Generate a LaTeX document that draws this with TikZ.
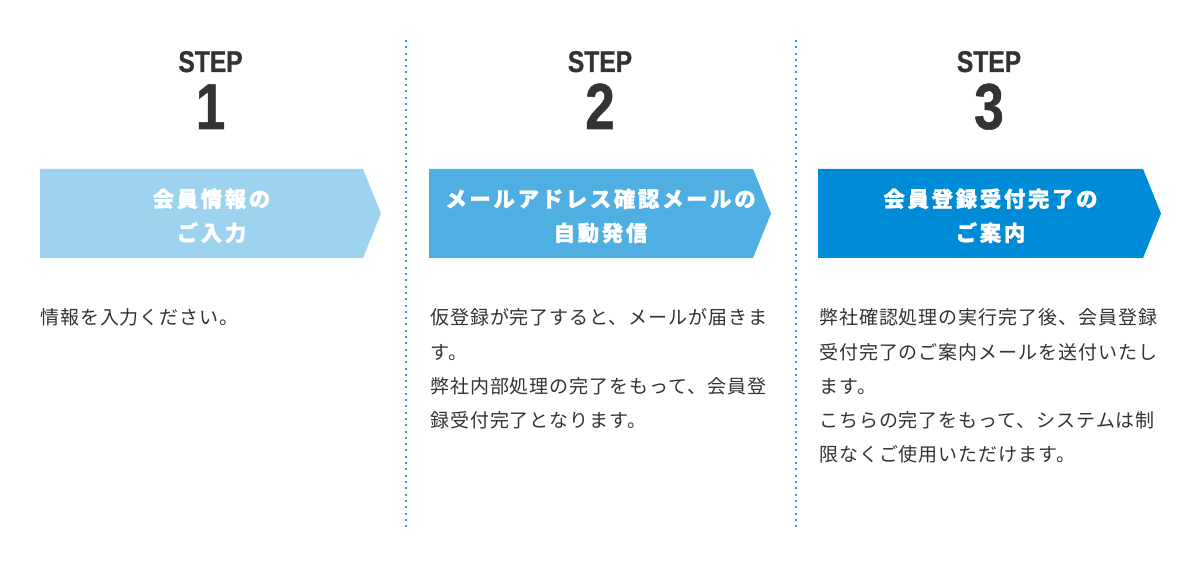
\documentclass[tikz,border=0pt]{standalone}
\usepackage{fontspec}
\newfontfamily\jpbody{Noto Sans CJK JP}[LetterSpace=5]
\newfontfamily\jphead{Noto Sans CJK JP}[LetterSpace=12,FakeBold=1.1]
\newfontfamily\stepfont{Liberation Sans}[FakeStretch=0.82,FakeBold=0.8]
\definecolor{boxA}{HTML}{9DD3EF}
\definecolor{boxB}{HTML}{4FAFE2}
\definecolor{boxC}{HTML}{008BD6}
\definecolor{ink}{HTML}{333333}
\definecolor{dotc}{HTML}{2E9ED9}
\newcommand{\bodylines}[1]{\parbox[t]{370pt}{\jpbody\fontsize{19}{34.2}\selectfont #1}}
\newcommand{\headlines}[1]{\parbox[t]{340pt}{\centering\jphead\bfseries\fontsize{21.5}{34}\selectfont #1}}
\begin{document}
\begin{tikzpicture}[x=1pt,y=-1pt,
  steplabel/.style={inner sep=0pt, text=ink, font=\stepfont\bfseries\fontsize{30}{31}\selectfont, anchor=base},
  stepnum/.style={inner sep=0pt, text=ink, font=\stepfont\bfseries\fontsize{65}{66}\selectfont, anchor=base},
  headtext/.style={inner sep=0pt, text=white, anchor=base},
  bodytext/.style={inner sep=0pt, text=ink, anchor=base west},
  divider/.style={dotc, line width=2pt, dash pattern=on 2pt off 4.3pt}
]
\useasboundingbox (0,0) rectangle (1200,569);
\fill[white] (0,0) rectangle (1200,569);

% dividers
\coordinate (d1t) at (406,40); \coordinate (d1b) at (406,529);
\coordinate (d2t) at (796,40); \coordinate (d2b) at (796,529);
\draw[divider] (d1t) -- (d1b);
\draw[divider] (d2t) -- (d2b);

% step 1
\node[steplabel] (s1) at (210.5,72) {STEP};
\node[stepnum] (n1) at (210.5,129) {1};
\fill[boxA] (40,169) -- (363,169) -- (381,213.5) -- (363,258) -- (40,258) -- cycle;
\node[headtext] (h1) at (211.5,207) {\headlines{会員情報の\\ご入力}};
\node[bodytext] (b1) at (40,325) {\bodylines{情報を入力ください。}};

% step 2
\node[steplabel] (s2) at (600,72) {STEP};
\node[stepnum] (n2) at (600,129) {2};
\fill[boxB] (429,169) -- (753,169) -- (771,213.5) -- (753,258) -- (429,258) -- cycle;
\node[headtext] (h2) at (600.5,207) {\headlines{メールアドレス確認メールの\\自動発信}};
\node[bodytext] (b2) at (430,325) {\bodylines{仮登録が完了すると、メールが届きま\\す。\\弊社内部処理の完了をもって、会員登\\録受付完了となります。}};

% step 3
\node[steplabel] (s3) at (989,72) {STEP};
\node[stepnum] (n3) at (989,129) {3};
\fill[boxC] (818,169) -- (1143,169) -- (1161,213.5) -- (1143,258) -- (818,258) -- cycle;
\node[headtext] (h3) at (990.5,207) {\headlines{会員登録受付完了の\\ご案内}};
\node[bodytext] (b3) at (819,325) {\bodylines{弊社確認処理の実行完了後、会員登録\\受付完了のご案内メールを送付いたし\\ます。\\こちらの完了をもって、システムは制\\限なくご使用いただけます。}};
\end{tikzpicture}
\end{document}
